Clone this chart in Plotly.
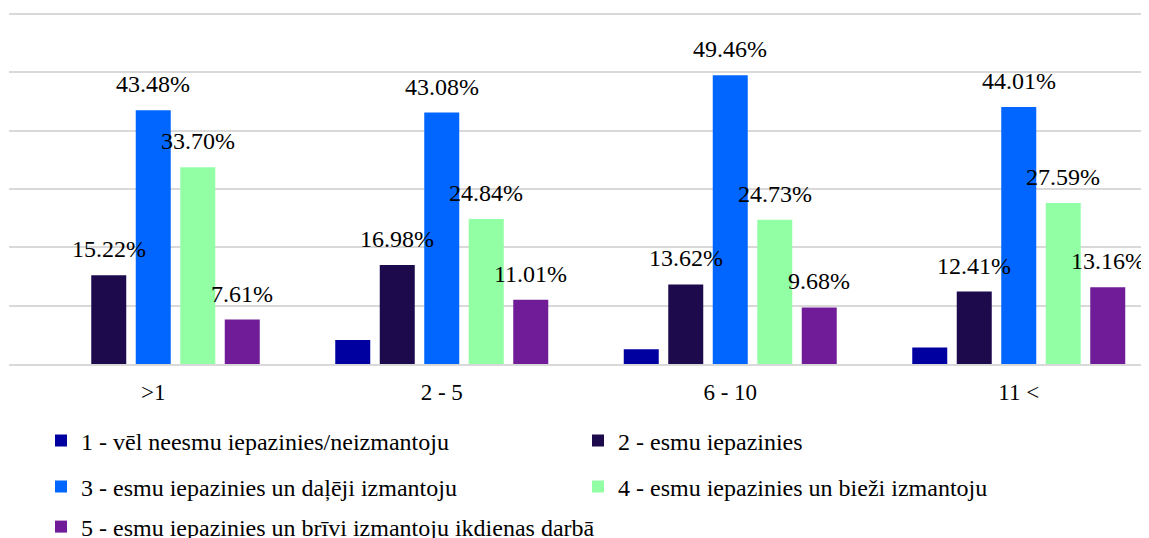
import plotly.graph_objects as go

categories = [">1", "2 - 5", "6 - 10", "11 <"]
series_names = [
    "1 - vēl neesmu iepazinies/neizmantoju",
    "2 - esmu iepazinies",
    "3 - esmu iepazinies un daļēji izmantoju",
    "4 - esmu iepazinies un bieži izmantoju",
    "5 - esmu iepazinies un brīvi izmantoju ikdienas darbā",
]
s1 = [0.0, 4.09, 2.51, 2.83]
s2 = [15.22, 16.98, 13.62, 12.41]
s3 = [43.48, 43.08, 49.46, 44.01]
s4 = [33.70, 24.84, 24.73, 27.59]
s5 = [7.61, 11.01, 9.68, 13.16]
show_labels = [False, True, True, True, True]

series_values = [s1, s2, s3, s4, s5]
colors = ["#0000A0", "#1C0A4C", "#0066FF", "#93FFA5", "#701C98"]
legend_ids = ["legend", "legend", "legend2", "legend2", "legend3"]

FONT = "Liberation Serif, Times New Roman, serif"
# page has an 8px body margin: figure occupies page x 8..1149, y 8..538
W, H = 1141, 530
ML, MR, MT, MB = 1, 0, 4, 174
group_px = 288.5
pitch = 44.5 / group_px
bw = 35.0 / group_px

xs = list(range(len(categories)))
fig = go.Figure()
annotations = []
for k, (name, vals) in enumerate(zip(series_names, series_values)):
    off = (k - 2) * pitch - bw / 2
    fig.add_trace(go.Bar(
        x=xs, y=vals, name=name, width=bw, offset=off,
        marker=dict(color=colors[k], line=dict(width=0)),
        legend=legend_ids[k], hoverinfo="skip",
    ))
    if show_labels[k]:
        for xi, v in zip(xs, vals):
            annotations.append(dict(
                x=xi + off + bw / 2, y=v, xref="x", yref="y",
                text=f"{v:.2f}%", showarrow=False, yanchor="middle", yshift=26,
                font=dict(family=FONT, size=24, color="#000000"),
            ))

plot_w = W - ML - MR
xmax = -0.5 + plot_w / group_px

legend_common = dict(
    orientation="h", xref="container", yref="container", xanchor="left", yanchor="middle",
    entrywidthmode="pixels", font=dict(family=FONT, size=24, color="#000000"),
    bgcolor="rgba(0,0,0,0)", traceorder="normal", itemclick=False, itemdoubleclick=False,
)
fig.update_layout(
    width=W, height=H,
    margin=dict(l=ML, r=MR, t=MT, b=MB, autoexpand=False),
    paper_bgcolor="white", plot_bgcolor="white",
    barmode="overlay",
    showlegend=True,
    legend=dict(**legend_common, entrywidth=492, x=33 / W, y=1 - 433 / H),
    legend2=dict(**legend_common, entrywidth=492, x=33 / W, y=1 - 479 / H),
    legend3=dict(**legend_common, entrywidth=800, x=33 / W, y=1 - 519 / H),
    xaxis=dict(
        range=[-0.5, xmax], tickmode="array", tickvals=xs, ticktext=categories,
        showgrid=False, zeroline=False, showline=True, linecolor="#D9D9D9", linewidth=1.5,
        ticks="", tickfont=dict(family=FONT, size=23, color="#000000"), ticklabelstandoff=7,
    ),
    yaxis=dict(
        range=[0, 60.3], tickmode="array", tickvals=[0, 10, 20, 30, 40, 50, 60],
        showticklabels=False, showgrid=True,
        gridcolor="#D9D9D9", gridwidth=1.5, zeroline=False, showline=False,
    ),
    annotations=annotations,
)
fig.write_html("out.html")
